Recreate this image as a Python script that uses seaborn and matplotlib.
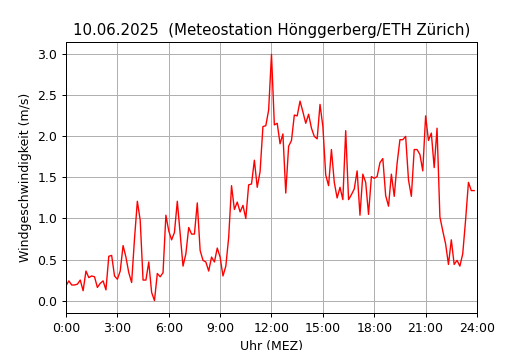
import numpy as np
import pandas as pd
import seaborn as sns
import matplotlib
matplotlib.use("Agg")
import matplotlib.pyplot as plt

# 10-minute values, 0:00 .. 23:50
minutes = np.arange(0, 1440, 10)
wind = [
    0.18, 0.24, 0.19, 0.19, 0.20, 0.25, 0.12, 0.36, 0.28, 0.30, 0.29, 0.16,
    0.21, 0.24, 0.13, 0.54, 0.55, 0.30, 0.26, 0.36, 0.67, 0.53, 0.34, 0.22,
    0.75, 1.21, 0.98, 0.25, 0.25, 0.47, 0.10, 0.00, 0.33, 0.29, 0.34, 1.04,
    0.85, 0.74, 0.83, 1.21, 0.81, 0.42, 0.57, 0.89, 0.81, 0.81, 1.19, 0.61,
    0.49, 0.47, 0.36, 0.53, 0.47, 0.64, 0.53, 0.30, 0.42, 0.77, 1.40, 1.11,
    1.20, 1.08, 1.16, 1.00, 1.41, 1.42, 1.71, 1.38, 1.57, 2.12, 2.13, 2.32,
    3.00, 2.14, 2.16, 1.91, 2.03, 1.31, 1.88, 1.95, 2.26, 2.25, 2.43, 2.30,
    2.16, 2.27, 2.10, 2.00, 1.97, 2.39, 2.12, 1.53, 1.40, 1.84, 1.44, 1.25,
    1.38, 1.23, 2.07, 1.23, 1.29, 1.36, 1.58, 1.04, 1.54, 1.44, 1.05, 1.51,
    1.49, 1.51, 1.68, 1.73, 1.28, 1.15, 1.54, 1.27, 1.67, 1.96, 1.96, 2.00,
    1.47, 1.27, 1.84, 1.84, 1.78, 1.58, 2.25, 1.95, 2.04, 1.62, 2.10, 1.02,
    0.85, 0.69, 0.44, 0.74, 0.44, 0.49, 0.42, 0.57, 0.98, 1.44, 1.34, 1.34,
]
tick_hours = [0, 3, 6, 9, 12, 15, 18, 21, 24]
tick_labels = ["0:00", "3:00", "6:00", "9:00", "12:00", "15:00", "18:00", "21:00", "24:00"]

df = pd.DataFrame({"h": minutes / 60, "v": wind})

# dpi 90 -> everything a bit smaller, like the original
fig = plt.figure(figsize=(530 / 90, 350 / 90), dpi=90)
ax = fig.add_axes([0.1245, 0.106, 0.7755, 0.774])
sns.lineplot(data=df, x="h", y="v", color="red", linewidth=1.1, ax=ax)
ax.set_xlim(0, 24)
ax.set_xticks(tick_hours)
ax.set_xticklabels(tick_labels)
ax.grid(True)
ax.set_xlabel("Uhr (MEZ)")
ax.set_ylabel("Windgeschwindigkeit (m/s)")
ax.set_title("10.06.2025  (Meteostation Hönggerberg/ETH Zürich)")
fig.savefig("out.png", dpi=90)
